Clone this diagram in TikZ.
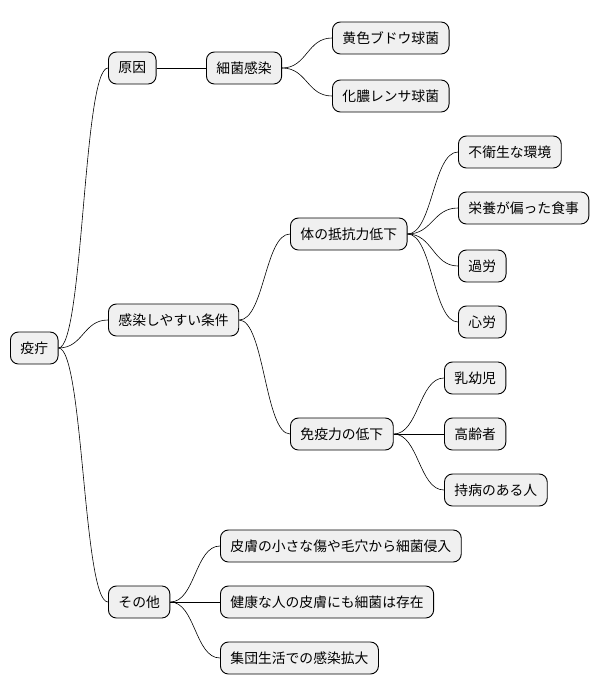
\documentclass[tikz,border=0pt]{standalone}
\usepackage{fontspec}
\setmainfont{Noto Sans CJK JP}
\begin{document}
\begin{tikzpicture}[x=1pt,y=-1pt,
  nd/.style={draw=black,line width=0.9pt,fill=gray!12,rounded corners=8pt,minimum height=32pt,inner xsep=10pt,anchor=west,font=\fontsize{13.8}{15}\selectfont},
  ln/.style={draw=black,line width=0.6pt}]
\useasboundingbox (0,0) rectangle (600,696);
\node[nd] (r) at (10,348) {疫疔};
\node[nd] (a) at (108,68) {原因};
\node[nd] (a1) at (206,68) {細菌感染};
\node[nd] (a11) at (332,38) {黄色ブドウ球菌};
\node[nd] (a12) at (332,96) {化膿レンサ球菌};
\node[nd] (b) at (108,320) {感染しやすい条件};
\node[nd] (b1) at (290,234) {体の抵抗力低下};
\node[nd] (b11) at (458,152) {不衛生な環境};
\node[nd] (b12) at (458,208) {栄養が偏った食事};
\node[nd] (b13) at (458,266) {過労};
\node[nd] (b14) at (458,322) {心労};
\node[nd] (b2) at (290,434) {免疫力の低下};
\node[nd] (b21) at (444,378) {乳幼児};
\node[nd] (b22) at (444,434) {高齢者};
\node[nd] (b23) at (444,490) {持病のある人};
\node[nd] (c) at (108,602) {その他};
\node[nd] (c1) at (220,546) {皮膚の小さな傷や毛穴から細菌侵入};
\node[nd] (c2) at (220,602) {健康な人の皮膚にも細菌は存在};
\node[nd] (c3) at (220,658) {集団生活での感染拡大};
\foreach \p/\c in {r/a,r/b,r/c,a/a1,a1/a11,a1/a12,b/b1,b/b2,b1/b11,b1/b12,b1/b13,b1/b14,b2/b21,b2/b22,b2/b23,c/c1,c/c2,c/c3}
  \draw[ln] (\p.east) .. controls +(25,0) and +(-25,0) .. (\c.west);
\end{tikzpicture}
\end{document}
